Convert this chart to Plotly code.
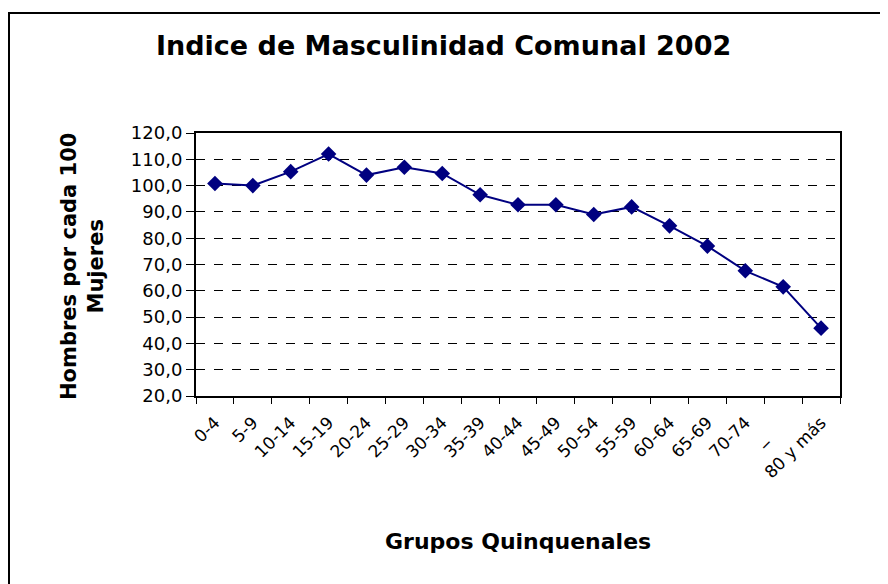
import plotly.graph_objects as go

categories = ["0-4", "5-9", "10-14", "15-19", "20-24", "25-29", "30-34", "35-39",
              "40-44", "45-49", "50-54", "55-59", "60-64", "65-69", "70-74", "75-79", "80 y más"]
tick_labels = ["0-4", "5-9", "10-14", "15-19", "20-24", "25-29", "30-34", "35-39",
               "40-44", "45-49", "50-54", "55-59", "60-64", "65-69", "70-74<br>_", "", "80 y más"]
values = [100.8, 100.0, 105.3, 112.0, 104.0, 107.0, 104.6, 96.5,
          92.7, 92.7, 89.0, 91.9, 84.7, 77.0, 67.6, 61.5, 45.8]
y_ticks = [20, 30, 40, 50, 60, 70, 80, 90, 100, 110, 120]
y_tick_text = ["20,0", "30,0", "40,0", "50,0", "60,0", "70,0", "80,0", "90,0", "100,0", "110,0", "120,0"]

font_family = "DejaVu Sans"

# page body has an 8px margin; work in window pixels and shift
OFF = 8
W, H = 888 - OFF, 584 - OFF
L, R, T, B = 196 - OFF, 888 - 840, 133 - OFF, 584 - 396
pw, ph = W - L - R, H - T - B

def px_x(x):
    return (x - OFF - L) / pw

def px_y(y):
    return (H - B - (y - OFF)) / ph

fig = go.Figure()
fig.add_trace(go.Scatter(
    x=categories, y=values, mode="lines+markers",
    line=dict(color="#000080", width=2),
    marker=dict(symbol="diamond", size=12, color="#000080"),
    showlegend=False, hoverinfo="x+y",
))

fig.update_layout(
    width=W, height=H,
    margin=dict(l=L, r=R, t=T, b=B),
    paper_bgcolor="white", plot_bgcolor="white",
    font=dict(family=font_family, color="black"),
    xaxis=dict(
        type="category", tickmode="array", tickvals=categories, ticktext=tick_labels,
        tickangle=-45, tickfont=dict(size=17), ticks="outside", ticklen=6,
        tickson="boundaries", tickcolor="black", ticklabelstandoff=8,
        showline=True, linecolor="black", linewidth=2, mirror=True,
        showgrid=False, zeroline=False,
        range=[-0.5, len(categories) - 0.5],
    ),
    yaxis=dict(
        range=[20, 120], tickmode="array", tickvals=y_ticks, ticktext=y_tick_text,
        tickfont=dict(size=18), ticks="outside", ticklen=8, tickcolor="black",
        showline=True, linecolor="black", linewidth=2, mirror=True,
        showgrid=True, gridcolor="black", griddash="dash", gridwidth=1,
        zeroline=False,
    ),
    shapes=[dict(type="rect", xref="paper", yref="paper",
                 x0=px_x(9), x1=px_x(900), y0=px_y(600), y1=px_y(13),
                 line=dict(color="black", width=2), fillcolor="rgba(0,0,0,0)", layer="below")],
    annotations=[
        dict(text="<b>Indice de Masculinidad Comunal 2002</b>", xref="paper", yref="paper",
             x=px_x(443), y=px_y(46), xanchor="center", yanchor="middle", showarrow=False,
             font=dict(size=27, family=font_family, color="black")),
        dict(text="<b>Grupos Quinquenales</b>", xref="paper", yref="paper",
             x=px_x(518), y=px_y(541), xanchor="center", yanchor="middle", showarrow=False,
             font=dict(size=22, family=font_family, color="black")),
        dict(text="<b>Hombres por cada 100<br>Mujeres</b>", xref="paper", yref="paper",
             x=px_x(82), y=px_y(267), xanchor="center", yanchor="middle", showarrow=False,
             textangle=-90, font=dict(size=21, family=font_family, color="black")),
    ],
)

fig.write_html("out.html")
